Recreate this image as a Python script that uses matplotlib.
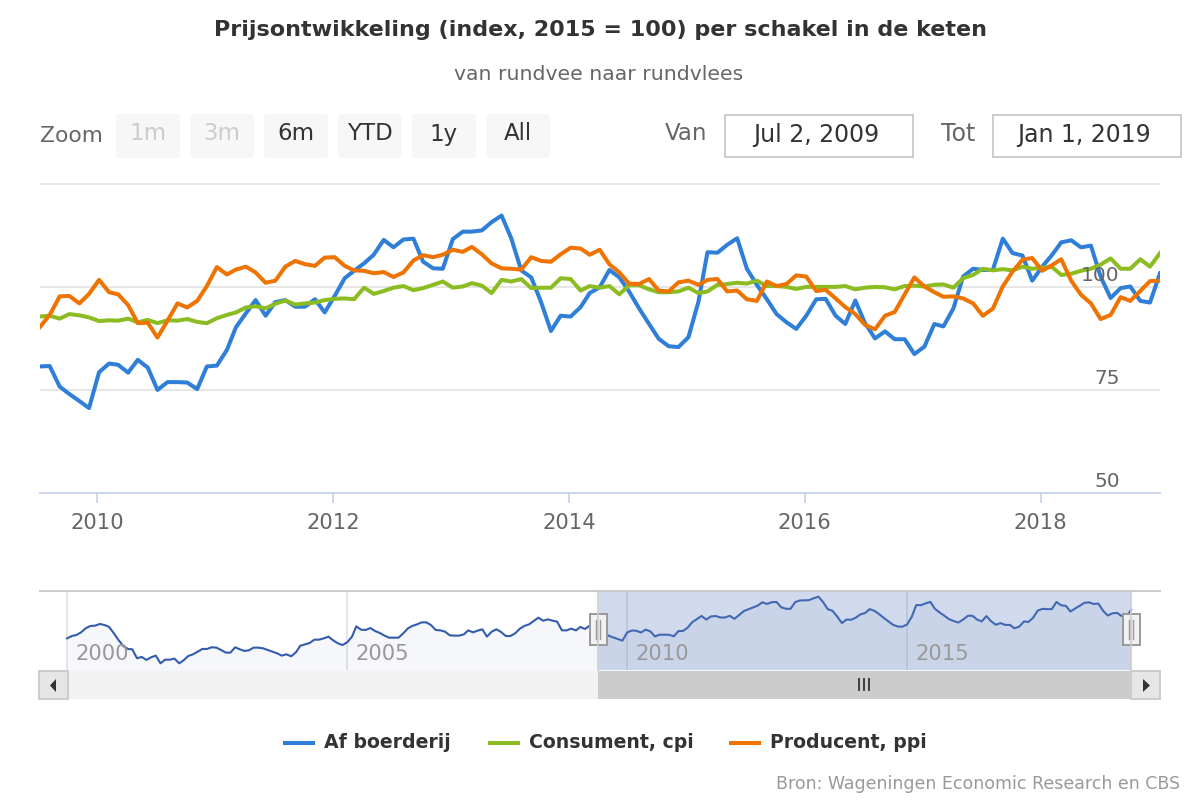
import matplotlib
matplotlib.use("Agg")
import matplotlib.pyplot as plt
import pandas as pd
from matplotlib.patches import FancyBboxPatch, Rectangle, Polygon

W, H = 1200, 800

boerderij = [
    80.7, 80.8, 75.8, 74.0, 72.3, 70.6, 79.3, 81.4, 81.1, 79.2, 82.3, 80.4, 75.0, 76.9, 76.9, 76.8,
    75.2, 80.7, 80.9, 84.7, 90.2, 93.6, 96.8, 93.0, 96.3, 96.8, 95.2, 95.2, 97.0, 93.8, 97.8, 102.1,
    103.9, 105.7, 107.8, 111.4, 109.6, 111.5, 111.7, 106.1, 104.5, 104.4, 111.6, 113.4, 113.4, 113.7,
    115.7, 117.3, 111.8, 104.0, 102.3, 96.4, 89.3, 93.0, 92.8, 95.1, 98.5, 99.9, 104.1, 102.3, 98.9,
    94.8, 91.0, 87.4, 85.6, 85.4, 87.8, 96.4, 108.4, 108.3, 110.2, 111.8, 104.4, 100.5, 97.0, 93.4,
    91.4, 89.8, 93.0, 97.0, 97.1, 93.0, 91.0, 96.7, 91.2, 87.5, 89.2, 87.3, 87.3, 83.7, 85.5, 91.0,
    90.4, 94.8, 102.5, 104.4, 104.1, 104.1, 111.7, 108.2, 107.6, 101.5, 104.9, 107.8, 110.8, 111.3,
    109.6, 110.0, 102.5, 97.3, 99.7, 100.1, 96.6, 96.2, 103.3,
]
consument = [
    92.8, 93.0, 92.3, 93.4, 93.1, 92.6, 91.7, 91.9, 91.8, 92.3, 91.4, 92.0, 91.2, 91.9, 91.8, 92.2,
    91.5, 91.2, 92.4, 93.2, 93.8, 95.0, 95.3, 94.8, 95.9, 96.7, 95.7, 96.0, 96.2, 96.8, 97.1, 97.2,
    97.0, 99.8, 98.3, 99.0, 99.8, 100.2, 99.2, 99.7, 100.5, 101.3, 99.8, 100.1, 100.9, 100.3, 98.5,
    101.7, 101.3, 101.9, 99.7, 99.8, 99.8, 102.1, 101.9, 99.1, 100.2, 99.8, 100.2, 98.2, 100.4, 100.4,
    99.4, 98.7, 98.7, 98.9, 99.8, 98.5, 98.9, 100.5, 100.7, 101.0, 100.8, 101.5, 100.2, 100.2, 100.0,
    99.5, 100.0, 100.0, 100.0, 100.0, 100.2, 99.4, 99.8, 100.0, 99.9, 99.4, 100.2, 100.3, 100.1, 100.5,
    100.6, 99.8, 102.1, 102.9, 104.4, 104.0, 104.3, 104.0, 104.9, 104.4, 104.7, 104.8, 102.9, 103.2,
    103.9, 104.4, 105.4, 106.9, 104.4, 104.4, 106.7, 104.9, 108.2,
]
producent = [
    90.2, 93.2, 97.7, 97.8, 96.0, 98.3, 101.7, 98.7, 98.2, 95.6, 91.2, 91.3, 87.7, 91.8, 96.0, 95.0,
    96.6, 100.2, 104.8, 103.0, 104.2, 104.9, 103.5, 101.0, 101.5, 104.9, 106.3, 105.5, 105.1, 107.1,
    107.2, 105.1, 104.0, 103.9, 103.3, 103.6, 102.4, 103.5, 106.4, 107.7, 107.2, 107.8, 109.0, 108.5,
    109.7, 107.9, 105.7, 104.5, 104.4, 104.2, 107.2, 106.3, 106.1, 107.9, 109.5, 109.3, 107.8, 109.0,
    105.5, 103.5, 100.8, 100.7, 101.9, 99.1, 98.9, 101.1, 101.5, 100.5, 101.7, 101.9, 98.9, 99.1, 97.0,
    96.6, 101.3, 100.2, 100.7, 102.8, 102.5, 99.0, 99.3, 97.2, 95.1, 93.4, 90.8, 89.7, 93.0, 93.9, 98.2,
    102.3, 100.1, 98.7, 97.6, 97.7, 97.2, 96.0, 93.0, 94.7, 100.1, 103.7, 106.6, 107.0, 103.9, 105.3,
    106.7, 101.5, 98.1, 96.0, 92.2, 93.2, 97.5, 96.6, 99.0, 101.4, 101.5,
]
# navigator history Jan 2000 - Jun 2009, after that it follows boerderij
nav_history = [
    73.0, 75.5, 76.6, 79.4, 83.7, 86.2, 86.5, 88.3, 87.2, 85.1, 78.3, 71.2, 64.9, 61.7, 61.3, 51.8,
    53.2, 50.0, 52.8, 54.6, 46.4, 50.3, 50.3, 51.4, 46.4, 50.0, 54.2, 56.0, 58.8, 61.7, 61.7, 63.5,
    63.1, 60.6, 57.8, 57.8, 63.5, 61.3, 59.6, 60.3, 63.1, 63.1, 62.4, 60.6, 58.8, 57.1, 54.6, 56.0,
    53.9, 58.1, 65.2, 66.6, 68.1, 71.6, 71.6, 73.0, 74.8, 70.9, 67.7, 65.9, 68.8, 74.8, 85.8, 82.2,
    81.9, 84.0, 80.8, 78.7, 75.9, 73.7, 73.7, 73.7, 78.3, 83.7, 86.2, 87.9, 90.0, 90.0, 87.2, 81.9,
    81.5, 80.1, 76.2, 75.9, 75.9, 77.3, 81.5, 79.4, 81.2, 82.6, 74.8, 80.1, 82.6, 79.8, 75.5, 75.5,
    78.3, 83.3, 86.2, 87.9, 91.5, 95.0, 91.8, 93.2, 91.8, 90.8, 81.5, 81.5, 83.3, 81.5, 85.1, 83.0,
    86.5, 85.4,
]
y_ticks = [50, 75, 100, 125]
main_years = [2010, 2012, 2014, 2016, 2018]
nav_years = [2000, 2005, 2010, 2015]
zoom_labels = ["1m", "3m", "6m", "YTD", "1y", "All"]
legend_labels = ["Af boerderij", "Consument, cpi", "Producent, ppi"]

BLUE, GREEN, ORANGE = "#2f7ed8", "#8bbc21", "#ef7300"


def axes_px(fig, left, top, right, bottom):
    return fig.add_axes([left / W, 1 - bottom / H, (right - left) / W, (bottom - top) / H])


def box(ax, x0, y0, x1, y1, **kw):
    ax.add_patch(Rectangle((x0, y0), x1 - x0, y1 - y0, **kw))


def main():
    fig = plt.figure(figsize=(12, 8), dpi=100, facecolor="white")

    # main chart
    ax = axes_px(fig, 40, 183, 1160, 493)
    dates = pd.date_range("2009-07-01", periods=len(boerderij), freq="MS")
    ax.plot(dates, boerderij, color=BLUE, lw=2.9, solid_joinstyle="round", zorder=3)
    ax.plot(dates, consument, color=GREEN, lw=2.9, solid_joinstyle="round", zorder=4)
    ax.plot(dates, producent, color=ORANGE, lw=2.9, solid_joinstyle="round", zorder=5)
    ax.set_xlim(pd.Timestamp("2009-07-02"), pd.Timestamp("2019-01-01"))
    ax.set_ylim(50, 125.2)
    ax.set_yticks(y_ticks)
    ax.set_yticklabels([])
    ax.tick_params(axis="y", length=0)
    ax.grid(axis="y", color="#e6e6e6", lw=1.4)
    ax.set_axisbelow(True)
    for s in ["top", "left", "right"]:
        ax.spines[s].set_visible(False)
    ax.spines["bottom"].set_color("#ccd6eb")
    ax.spines["bottom"].set_linewidth(1.4)
    ax.set_xticks([pd.Timestamp(y, 1, 1) - pd.Timedelta(days=5) for y in main_years])
    ax.set_xticklabels([str(y) for y in main_years], fontsize=15.2, color="#666666")
    ax.tick_params(axis="x", length=7, width=1.4, color="#ccd6eb", pad=7.5)
    ax.patch.set_alpha(0)
    for v in y_ticks[:-1]:
        ax.annotate(str(v), (1, v), xycoords=("axes fraction", "data"), xytext=(-29, 1.5),
                    textcoords="offset points", ha="right", va="bottom", fontsize=14.5,
                    color="#666666", zorder=6)

    # navigator
    nav = axes_px(fig, 40, 591, 1160, 670)
    nav_dates = pd.date_range("2000-01-01", periods=len(nav_history) + len(boerderij), freq="MS")
    nav_values = nav_history + boerderij
    nav.plot(nav_dates, nav_values, color="#335cad", lw=1.5, zorder=3)
    nav.fill_between(nav_dates, nav_values, 0, color="#6685c2", alpha=0.06, lw=0, zorder=2)
    nav.set_xlim(pd.Timestamp("1999-07-08"), pd.Timestamp("2019-07-08"))
    nav.set_ylim(39.3, 123.4)
    nav.set_yticks([])
    nav.set_xticks([pd.Timestamp(y, 1, 1) for y in nav_years])
    nav.set_xticklabels([])
    nav.tick_params(axis="x", length=0)
    nav.grid(axis="x", color="#e6e6e6", lw=1.4)
    nav.set_axisbelow(True)
    for s in nav.spines.values():
        s.set_visible(False)
    nav.axvspan(pd.Timestamp("2009-07-02"), pd.Timestamp("2019-01-01"), color="#6685c2", alpha=0.3, lw=0, zorder=4)
    for y in nav_years:
        nav.annotate(str(y), (pd.Timestamp(y, 1, 1), 0), xycoords=("data", "axes fraction"),
                     xytext=(6, 4), textcoords="offset points", ha="left", va="bottom",
                     fontsize=15.2, color="#999999", zorder=5)

    # everything around the plots, in pixels
    ui = fig.add_axes([0, 0, 1, 1], zorder=5)
    ui.set_xlim(0, W)
    ui.set_ylim(H, 0)
    ui.axis("off")

    ui.text(600, 30, "Prijsontwikkeling (index, 2015 = 100) per schakel in de keten", ha="center",
            va="center", fontsize=16, fontweight="bold", color="#333333")
    ui.text(599, 75, "van rundvee naar rundvlees", ha="center", va="center", fontsize=14.7, color="#666666")

    # range selector
    ui.text(40, 136, "Zoom", va="center", fontsize=15.7, color="#666666")
    for i, label in enumerate(zoom_labels):
        x0 = 116 + i * 74
        ui.add_patch(FancyBboxPatch((x0, 114), 64, 44, boxstyle="round,pad=0,rounding_size=3",
                                    mutation_scale=1, fc="#f7f7f7", ec="none"))
        ui.text(x0 + 32, 134, label, ha="center", va="center", fontsize=16.5,
                color="#cccccc" if i < 2 else "#333333")

    # date inputs
    ui.text(686, 134, "Van", ha="center", va="center", fontsize=16.5, color="#666666")
    ui.text(958, 134, "Tot", ha="center", va="center", fontsize=17, color="#666666")
    box(ui, 725, 115, 913, 157, fc="white", ec="#cccccc", lw=1.4)
    box(ui, 993, 115, 1181, 157, fc="white", ec="#cccccc", lw=1.4)
    ui.text(816, 135, "Jul 2, 2009", ha="center", va="center", fontsize=17, color="#333333")
    ui.text(1084, 135, "Jan 1, 2019", ha="center", va="center", fontsize=17, color="#333333")

    # navigator frame and handles
    ui.plot([40, 1160], [591, 591], color="#cccccc", lw=1.4)
    ui.plot([598, 598], [591, 670], color="#cccccc", lw=1.2)
    ui.plot([1131, 1131], [591, 670], color="#cccccc", lw=1.2)
    for x in [598, 1131]:
        box(ui, x - 8.5, 614, x + 8.5, 645, fc="#f2f2f2", ec="#999999", lw=1.4)
        ui.plot([x - 2, x - 2], [620, 639], color="#999999", lw=1)
        ui.plot([x + 2, x + 2], [620, 639], color="#999999", lw=1)

    # scrollbar
    box(ui, 68, 671, 1131, 699, fc="#f2f2f2", ec="none")
    box(ui, 598, 671, 1131, 699, fc="#cccccc", ec="none")
    box(ui, 39, 671, 68, 699, fc="#e6e6e6", ec="#cccccc", lw=1.4)
    box(ui, 1131, 671, 1160, 699, fc="#e6e6e6", ec="#cccccc", lw=1.4)
    ui.add_patch(Polygon([[56, 679], [56, 692], [50, 685.5]], fc="#333333", ec="none"))
    ui.add_patch(Polygon([[1143, 679], [1143, 692], [1150, 685.5]], fc="#333333", ec="none"))
    for x in [859, 864, 869]:
        ui.plot([x, x], [679, 690], color="#333333", lw=1.3)

    # legend
    for x0, color, label in zip([283, 488, 729], [BLUE, GREEN, ORANGE], legend_labels):
        ui.plot([x0, x0 + 32], [743, 743], color=color, lw=2.9, solid_capstyle="butt")
        ui.text(x0 + 41, 743, label, va="center", fontsize=13.6, fontweight="bold", color="#333333")

    ui.text(1180, 784, "Bron: Wageningen Economic Research en CBS", ha="right", va="center",
            fontsize=12.5, color="#999999")

    fig.savefig("out.png", dpi=100)


if __name__ == "__main__":
    main()
